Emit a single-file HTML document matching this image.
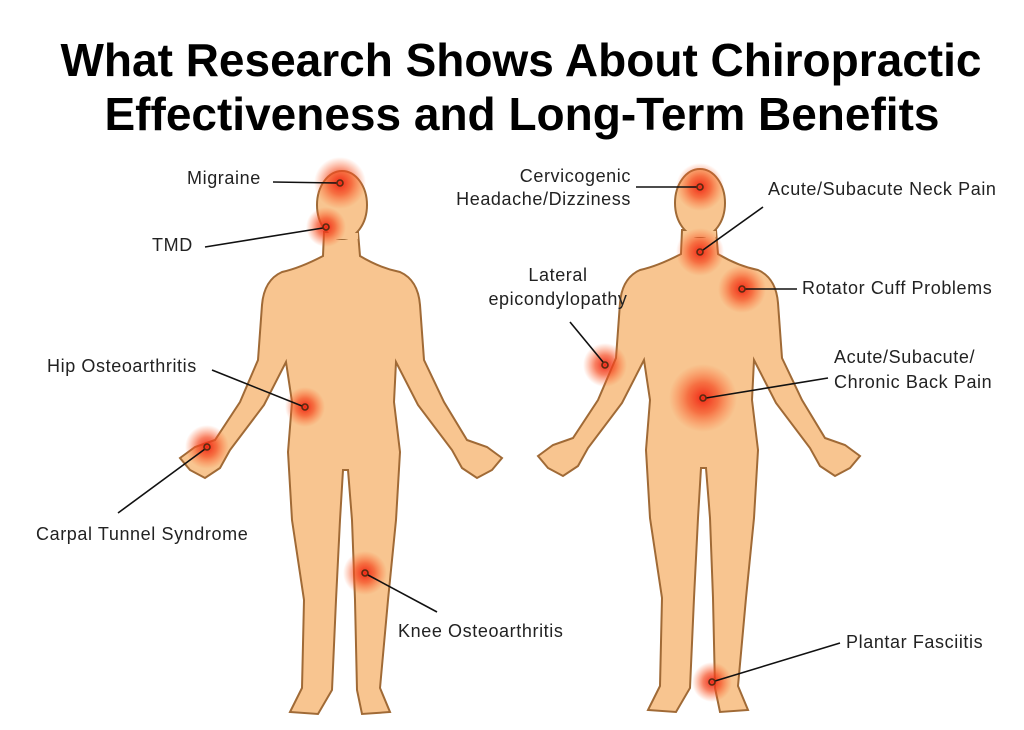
<!DOCTYPE html>
<html><head><meta charset="utf-8"><style>
body{margin:0;background:#fff;width:1024px;height:730px;overflow:hidden}
svg{display:block}
.t{font-family:"Liberation Sans",sans-serif;font-weight:bold;font-size:46px;fill:#000}
.l{font-family:"Liberation Sans",sans-serif;font-size:18px;letter-spacing:0.6px;fill:#222}
.ln{stroke:#111;stroke-width:1.6;fill:none}
.m{fill:none;stroke:#5a2a10;stroke-width:1.6}
</style></head><body>
<svg width="1024" height="730" viewBox="0 0 1024 730">
<defs>
<radialGradient id="g"><stop offset="0" stop-color="#f02010" stop-opacity=".95"/><stop offset=".45" stop-color="#f54a20" stop-opacity=".7"/><stop offset="1" stop-color="#ff6a30" stop-opacity="0"/></radialGradient>
<g id="body">
<path d="M324,232 L323,256 Q300,268 282,272 Q264,280 262,305 L258,360 L240,402 L215,440 L195,447 L180,458 L190,470 L205,478 L220,468 L230,450 L264,405 L286,362 L292,402 L288,452 L292,520 L304,600 L302,688 L290,712 L318,714 L332,690 L336,600 L340,520 L343,470 L348,470 L352,520 L355,600 L357,690 L362,714 L390,712 L380,688 L388,600 L396,520 L400,452 L394,402 L396,362 L418,405 L452,450 L462,468 L477,478 L492,470 L502,458 L487,447 L467,440 L444,402 L424,360 L420,305 Q418,280 400,272 Q380,268 360,256 L358,232 Z" fill="#f8c590" stroke="#a06a36" stroke-width="2"/>
<ellipse cx="342" cy="205" rx="25" ry="34" fill="#f8c590" stroke="#a06a36" stroke-width="2"/>
<path d="M326,236 L358,236" stroke="#f8c590" stroke-width="6"/>
</g>
</defs>
<text class="t" x="521" y="76" text-anchor="middle">What Research Shows About Chiropractic</text>
<text class="t" x="522" y="130" text-anchor="middle">Effectiveness and Long-Term Benefits</text>
<use href="#body"/>
<use href="#body" transform="translate(358,-2)"/>
<g>
<circle cx="340" cy="183" r="26" fill="url(#g)"/>
<circle cx="326" cy="227" r="20" fill="url(#g)"/>
<circle cx="305" cy="407" r="20" fill="url(#g)"/>
<circle cx="207" cy="447" r="22" fill="url(#g)"/>
<circle cx="365" cy="573" r="22" fill="url(#g)"/>
<circle cx="700" cy="187" r="24" fill="url(#g)"/>
<circle cx="700" cy="252" r="24" fill="url(#g)"/>
<circle cx="742" cy="289" r="24" fill="url(#g)"/>
<circle cx="605" cy="365" r="22" fill="url(#g)"/>
<circle cx="703" cy="398" r="34" fill="url(#g)"/>
<circle cx="712" cy="682" r="20" fill="url(#g)"/>
</g>
<g class="ln">
<line x1="273" y1="182" x2="337" y2="183"/>
<line x1="205" y1="247" x2="323" y2="228"/>
<line x1="212" y1="370" x2="302" y2="406"/>
<line x1="118" y1="513" x2="205" y2="449"/>
<line x1="437" y1="612" x2="368" y2="575"/>
<line x1="636" y1="187" x2="697" y2="187"/>
<line x1="763" y1="207" x2="703" y2="250"/>
<line x1="797" y1="289" x2="745" y2="289"/>
<line x1="570" y1="322" x2="603" y2="362"/>
<line x1="828" y1="378" x2="706" y2="398"/>
<line x1="840" y1="643" x2="715" y2="681"/>
</g>
<g class="m">
<circle cx="340" cy="183" r="3"/><circle cx="326" cy="227" r="3"/><circle cx="305" cy="407" r="3"/><circle cx="207" cy="447" r="3"/><circle cx="365" cy="573" r="3"/><circle cx="700" cy="187" r="3"/><circle cx="700" cy="252" r="3"/><circle cx="742" cy="289" r="3"/><circle cx="605" cy="365" r="3"/><circle cx="703" cy="398" r="3"/><circle cx="712" cy="682" r="3"/>
</g>
<g class="l">
<text x="187" y="184">Migraine</text>
<text x="152" y="251">TMD</text>
<text x="47" y="372">Hip Osteoarthritis</text>
<text x="36" y="540">Carpal Tunnel Syndrome</text>
<text x="398" y="637">Knee Osteoarthritis</text>
<text x="631" y="182" text-anchor="end">Cervicogenic</text>
<text x="631" y="205" text-anchor="end">Headache/Dizziness</text>
<text x="768" y="195">Acute/Subacute Neck Pain</text>
<text x="802" y="294">Rotator Cuff Problems</text>
<text x="558" y="281" text-anchor="middle">Lateral</text>
<text x="558" y="305" text-anchor="middle">epicondylopathy</text>
<text x="834" y="363">Acute/Subacute/</text>
<text x="834" y="388">Chronic Back Pain</text>
<text x="846" y="648">Plantar Fasciitis</text>
</g>
</svg>
</body></html>
